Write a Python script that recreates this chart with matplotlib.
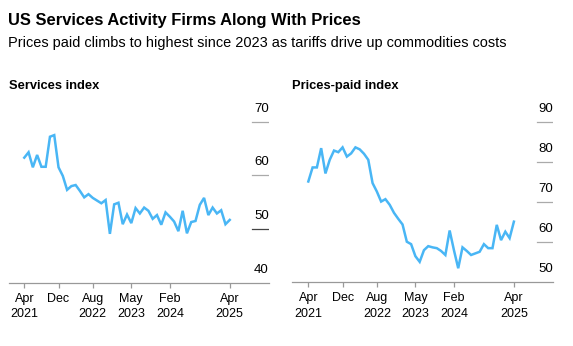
import numpy as np
import matplotlib.pyplot as plt

plt.rcParams['font.family'] = ['Liberation Sans', 'DejaVu Sans']

# Monthly readings, Apr 2021 .. Apr 2025
services = [63.3, 64.3, 61.5, 63.8, 61.6, 61.6, 67.2, 67.5, 61.5, 59.9,
            57.3, 58.0, 58.2, 57.1, 55.9, 56.5, 55.8, 55.3, 54.8, 55.4,
            49.1, 54.6, 54.9, 50.9, 52.7, 51.1, 53.9, 52.9, 54.0, 53.4,
            51.9, 52.6, 50.8, 53.1, 52.3, 51.4, 49.6, 53.4, 49.2, 51.3,
            51.5, 54.5, 55.8, 52.6, 54.0, 52.9, 53.5, 50.9, 51.7]
prices_paid = [75.1, 78.6, 78.6, 83.4, 77.1, 80.5, 82.8, 82.4, 83.6, 81.3,
               82.1, 83.6, 83.1, 82.0, 80.5, 74.7, 72.6, 70.1, 70.7, 69.3,
               67.3, 65.8, 64.4, 60.1, 59.5, 56.5, 55.1, 58.0, 59.0, 58.7,
               58.5, 57.8, 56.8, 62.9, 58.0, 53.5, 58.7, 57.8, 56.8, 57.2,
               57.6, 59.5, 58.5, 58.5, 64.3, 60.5, 62.6, 61.0, 65.1]

tick_months = [0, 8, 16, 25, 34, 48]
tick_labels = ['Apr\n2021', 'Dec', 'Aug\n2022', 'May\n2023', 'Feb\n2024', 'Apr\n2025']

line_color = '#49b6f5'

fig = plt.figure(figsize=(5.73, 3.46), dpi=100)

fig.text(8/573, 1 - 25/346, 'US Services Activity Firms Along With Prices',
         fontsize=11.9, fontweight='bold', va='baseline')
fig.text(8/573, 1 - 47/346,
         'Prices paid climbs to highest since 2023 as tariffs drive up commodities costs',
         fontsize=10.45, va='baseline')


def panel(rect, values, ylim, yticks, dark_tick, xlim, title):
    ax = fig.add_axes(rect)
    months = np.arange(len(values))
    ax.plot(months, values, color=line_color, lw=1.8, solid_joinstyle='miter')
    ax.set_xlim(*xlim)
    ax.set_ylim(*ylim)
    for s in ['top', 'right', 'left']:
        ax.spines[s].set_visible(False)
    ax.spines['bottom'].set_color('#999999')
    ax.spines['bottom'].set_linewidth(0.9)
    ax.set_yticks([])
    ax.set_xticks(tick_months)
    ax.set_xticklabels(tick_labels, fontsize=9, linespacing=1.35)
    ax.tick_params(axis='x', length=3.3, width=0.9, color='#999999', pad=4)
    for t in yticks:
        if t > ylim[0]:
            c = '#444444' if t == dark_tick else '#aaaaaa'
            ax.axhline(t, xmin=0.936, xmax=1.0, color=c, lw=0.9)
        ax.annotate(str(t), xy=(1.0, t), xycoords=('axes fraction', 'data'),
                    xytext=(0, 5), textcoords='offset points',
                    ha='right', va='bottom', fontsize=9.5)
    fig.text(rect[0], 1 - 89/346, title, fontsize=9.3, fontweight='bold',
             va='baseline')
    return ax


panel([9/573, 1 - 282.7/346, 259.7/573, 172.7/346], services,
      (40, 72.18), [40, 50, 60, 70], 50, (-3.57, 57.1), 'Services index')
panel([292.3/573, 1 - 282.3/346, 261/573, 172.3/346], prices_paid,
      (50, 92.9), [50, 60, 70, 80, 90], None, (-3.74, 57.2), 'Prices-paid index')

fig.savefig('out.png', dpi=100)
